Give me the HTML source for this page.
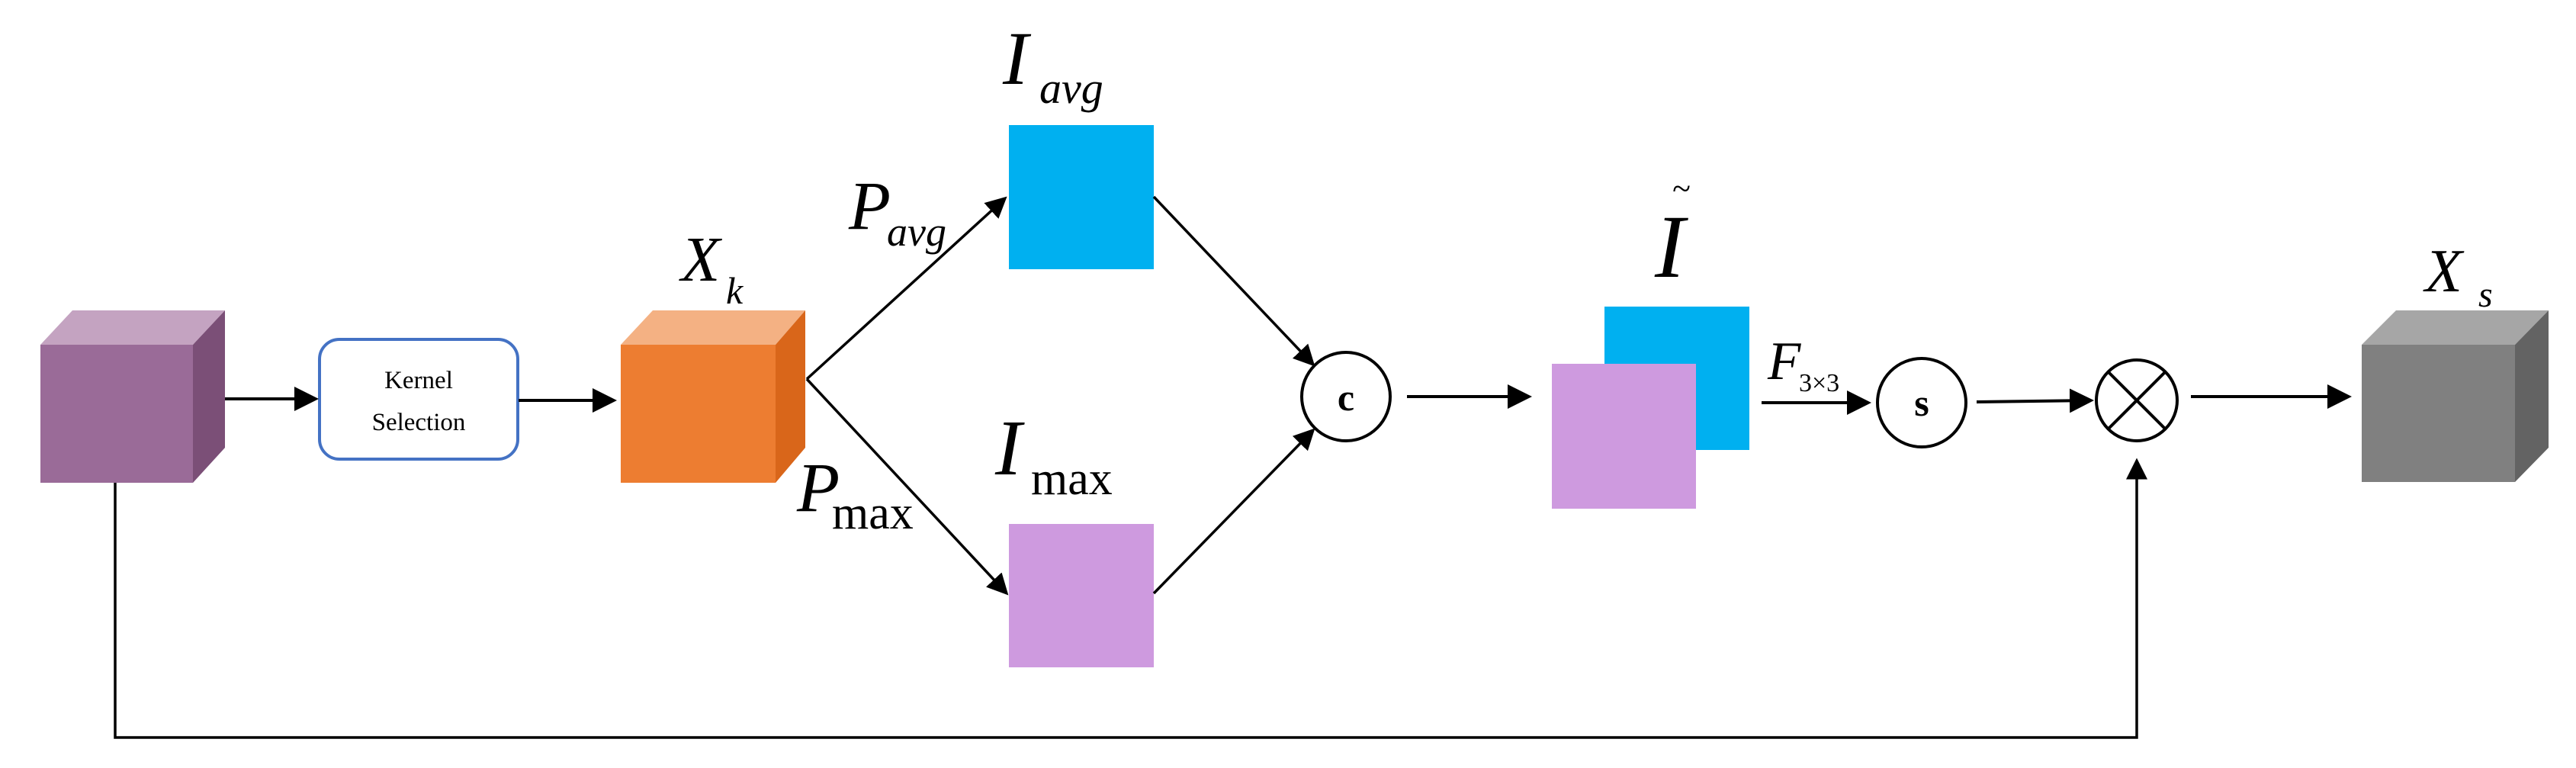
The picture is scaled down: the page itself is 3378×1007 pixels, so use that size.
<!DOCTYPE html>
<html><head><meta charset="utf-8"><style>
html,body{margin:0;padding:0;background:#fff;}
svg{display:block;}
text{font-family:"Liberation Serif",serif;fill:#000;}
.it{font-style:italic;}
</style></head><body>
<svg width="3378" height="1007" viewBox="0 0 3378 1007" xmlns="http://www.w3.org/2000/svg">
<defs>
<marker id="ah" markerWidth="8" markerHeight="8" refX="7" refY="4" orient="auto" markerUnits="strokeWidth">
<path d="M0,0 L8,4 L0,8 z" fill="#000"/>
</marker>
</defs>
<g stroke="#000" stroke-width="4" fill="none">
<!-- skip connection -->
<polyline points="151,633 151,967 2802,967 2802,604" marker-end="url(#ah)" stroke-width="3.5"/>
</g>
<!-- purple cube -->
<polygon points="53,452 95,407 295,407 253,452" fill="#C4A3C1"/>
<polygon points="253,452 295,407 295,587 253,633" fill="#7B4F77"/>
<rect x="53" y="452" width="200" height="181" fill="#9A6B98"/>
<!-- orange cube -->
<polygon points="814,452 856,407 1056,407 1017,452" fill="#F4B183"/>
<polygon points="1017,452 1056,407 1056,587 1017,633" fill="#D9661A"/>
<rect x="814" y="452" width="203" height="181" fill="#ED7D31"/>
<!-- gray cube -->
<polygon points="3097,452 3142,407 3342,407 3298,452" fill="#A6A6A6"/>
<polygon points="3298,452 3342,407 3342,587 3298,632" fill="#636363"/>
<rect x="3097" y="452" width="201" height="180" fill="#808080"/>
<!-- kernel box -->
<rect x="419" y="445" width="260" height="157" rx="26" ry="26" fill="#fff" stroke="#4472C4" stroke-width="4"/>
<text x="549" y="509" font-size="33" text-anchor="middle">Kernel</text>
<text x="549" y="564" font-size="33" text-anchor="middle">Selection</text>
<!-- rects -->
<rect x="1323" y="164" width="190" height="189" fill="#00B0F0"/>
<rect x="1323" y="687" width="190" height="188" fill="#CE9ADF"/>
<rect x="2104" y="402" width="190" height="188" fill="#00B0F0"/>
<rect x="2035" y="477" width="189" height="190" fill="#CE9ADF"/>
<!-- connectors -->
<g stroke="#000" stroke-width="4" fill="none" marker-end="url(#ah)">
<line x1="295" y1="523" x2="414" y2="523"/>
<line x1="680" y1="525" x2="805" y2="525"/>
<line x1="1058" y1="497" x2="1318" y2="260" stroke-width="3.5"/>
<line x1="1058" y1="497" x2="1320" y2="778" stroke-width="3.5"/>
<line x1="1513" y1="258" x2="1722" y2="478" stroke-width="3.5"/>
<line x1="1513" y1="778" x2="1722" y2="564" stroke-width="3.5"/>
<line x1="1845" y1="520" x2="2005" y2="520"/>
<line x1="2310" y1="528" x2="2450" y2="528"/>
<line x1="2592" y1="527" x2="2742" y2="525"/>
<line x1="2873" y1="520" x2="3080" y2="520"/>
</g>
<!-- circles -->
<circle cx="1765" cy="520" r="58" fill="#fff" stroke="#000" stroke-width="4"/>
<text x="1765" y="538" font-size="50" font-weight="bold" text-anchor="middle">c</text>
<circle cx="2520" cy="528" r="58" fill="#fff" stroke="#000" stroke-width="4"/>
<text x="2520" y="545" font-size="50" font-weight="bold" text-anchor="middle">s</text>
<circle cx="2802" cy="525" r="53" fill="#fff" stroke="#000" stroke-width="4"/>
<g stroke="#000" stroke-width="4">
<line x1="2765" y1="488" x2="2839" y2="562"/>
<line x1="2839" y1="488" x2="2765" y2="562"/>
</g>
<!-- labels -->
<text class="it" x="893" y="368" font-size="84">X</text>
<text class="it" x="952" y="398" font-size="50">k</text>
<text class="it" x="3180" y="382" font-size="80">X</text>
<text class="it" x="3250" y="402" font-size="48">s</text>
<text class="it" x="1315" y="110" font-size="100">I</text>
<text class="it" x="1363" y="135" font-size="58">avg</text>
<text class="it" x="1305" y="622" font-size="104">I</text>
<text x="1352" y="648" font-size="62">max</text>
<text class="it" x="1113" y="300" font-size="90">P</text>
<text class="it" x="1163" y="322" font-size="54">avg</text>
<text class="it" x="1045" y="670" font-size="92">P</text>
<text x="1091" y="693" font-size="62">max</text>
<text class="it" x="2170" y="363" font-size="118">I</text>
<text x="2205" y="262" font-size="44" text-anchor="middle">~</text>
<text class="it" x="2318" y="497" font-size="71">F</text>
<text x="2359" y="513" font-size="34">3×3</text>
</svg>
</body></html>
